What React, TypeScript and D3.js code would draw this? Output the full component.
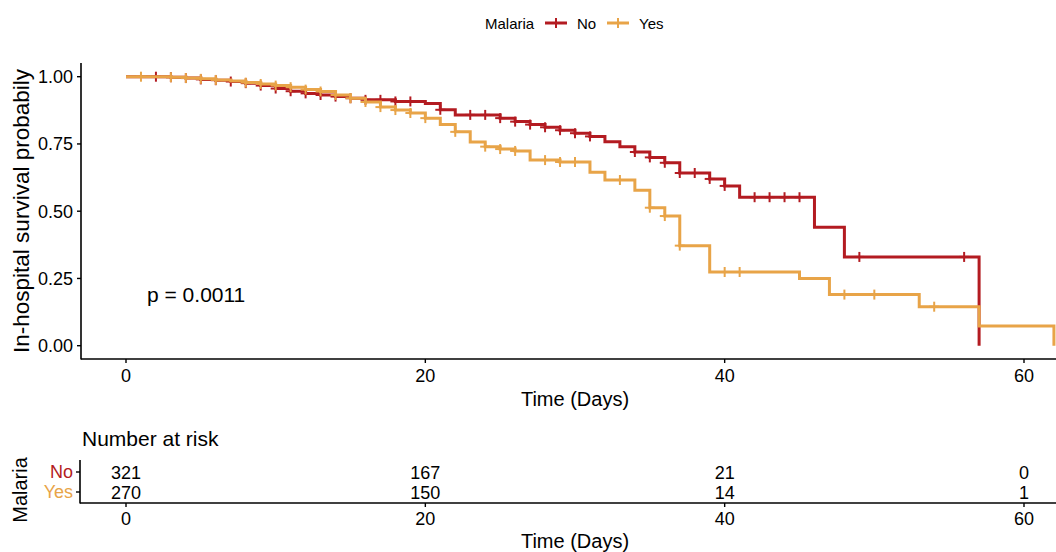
import React from 'react';
import * as d3 from 'd3';

// Kaplan-Meier steps
const groups = ['No', 'Yes'];
const colors = ['#B31B21', '#E8A448'];

const noTimes = [3, 4, 5, 6, 7, 8, 9, 10, 11, 12, 13, 14, 15, 16, 18, 20, 21, 22, 25, 26, 27, 28, 29, 30, 31, 32, 33, 34, 35, 36, 37, 39, 40, 41, 46, 48, 57];
const noSurv = [0.998, 0.995, 0.99, 0.987, 0.982, 0.976, 0.967, 0.956, 0.946, 0.938, 0.932, 0.926, 0.92, 0.914, 0.908, 0.9, 0.877, 0.858, 0.846, 0.833, 0.822, 0.812, 0.801, 0.79, 0.778, 0.758, 0.74, 0.72, 0.7, 0.68, 0.642, 0.62, 0.594, 0.552, 0.44, 0.33, 0];
const noCensor = [2, 3, 4, 5, 6, 7, 8, 9, 10, 11, 12, 13, 14, 15, 16, 17, 18, 19, 21, 23, 24, 25, 26, 27, 28, 29, 30, 31, 34, 35, 36, 37, 38, 39, 40, 42, 43, 44, 45, 49, 56];

const yesTimes = [3, 4, 5, 6, 7, 8, 9, 10, 11, 12, 13, 14, 15, 16, 17, 18, 19, 20, 21, 22, 23, 24, 25, 26, 27, 29, 31, 32, 34, 35, 36, 37, 39, 45, 47, 53, 57, 62];
const yesSurv = [0.998, 0.995, 0.992, 0.988, 0.984, 0.978, 0.973, 0.967, 0.961, 0.952, 0.945, 0.932, 0.92, 0.906, 0.887, 0.876, 0.865, 0.846, 0.822, 0.795, 0.757, 0.74, 0.731, 0.724, 0.69, 0.683, 0.645, 0.616, 0.578, 0.513, 0.482, 0.372, 0.274, 0.25, 0.19, 0.145, 0.073, 0];
const yesCensor = [1, 3, 4, 5, 6, 8, 9, 10, 11, 12, 13, 14, 15, 16, 17, 18, 19, 20, 22, 24, 25, 26, 28, 29, 30, 33, 35, 36, 37, 40, 41, 48, 50, 54];

const xTicks = [0, 20, 40, 60];
const yTicks = [0, 0.25, 0.5, 0.75, 1];
const riskNo = [321, 167, 21, 0];
const riskYes = [270, 150, 14, 1];
const pLabel = 'p = 0.0011';

const font = "'Liberation Sans', Arial, Helvetica, sans-serif";
const W = 1056;
const H = 552;

const x = d3.scaleLinear().domain([0, 60]).range([126, 1024]);
const y = d3.scaleLinear().domain([0, 1]).range([345.7, 76.7]);
const panelLeft = 81;
const panelTop = 63;
const panelBottom = 359;

const series = [
  { name: groups[0], color: colors[0], times: noTimes, surv: noSurv, censor: noCensor },
  { name: groups[1], color: colors[1], times: yesTimes, surv: yesSurv, censor: yesCensor },
];

const survAt = (times: number[], surv: number[], t: number) => {
  let s = 1;
  times.forEach((tt, i) => {
    if (tt <= t) s = surv[i];
  });
  return s;
};

const stepLine = d3
  .line<[number, number]>()
  .x(d => x(d[0]))
  .y(d => y(d[1]))
  .curve(d3.curveStepAfter);

// risk table
const tableAxisY = 503;
const rowY = d3.scaleBand().domain(groups).range([462, 502]);

export default function App() {
  const fmt = d3.format('.2f');
  return (
    <div style={{ position: 'absolute', left: 0, top: 0 }}>
      <svg width={W} height={H} style={{ display: 'block', background: '#fff' }} fontFamily={font}>
        {/* legend */}
        <g>
          <text x={485} y={29} fontSize={15} fill="#000">Malaria</text>
          {series.map((s, i) => {
            const lx = i === 0 ? 545 : 607;
            return (
              <g key={s.name}>
                <line x1={lx} x2={lx + 22} y1={23} y2={23} stroke={s.color} strokeWidth={3} />
                <line x1={lx + 11} x2={lx + 11} y1={18} y2={28} stroke={s.color} strokeWidth={2} />
                <text x={lx + 32} y={29} fontSize={15} fill="#000">{s.name}</text>
              </g>
            );
          })}
        </g>

        {/* axes of the survival panel */}
        <line x1={panelLeft} x2={panelLeft} y1={panelTop} y2={panelBottom + 0.5} stroke="#000" strokeWidth={1.6} />
        <line x1={panelLeft} x2={W} y1={panelBottom} y2={panelBottom} stroke="#000" strokeWidth={1.6} />
        {yTicks.map(t => (
          <g key={t}>
            <line x1={panelLeft - 4} x2={panelLeft} y1={y(t)} y2={y(t)} stroke="#000" strokeWidth={1.4} />
            <text x={73} y={y(t) + 6.5} fontSize={18} textAnchor="end" fill="#000">{fmt(t)}</text>
          </g>
        ))}
        {xTicks.map(t => (
          <g key={t}>
            <line x1={x(t)} x2={x(t)} y1={panelBottom} y2={panelBottom + 4} stroke="#000" strokeWidth={1.4} />
            <text x={x(t)} y={382} fontSize={18} textAnchor="middle" fill="#000">{t}</text>
          </g>
        ))}
        <text x={575} y={406} fontSize={20} textAnchor="middle" fill="#000">Time (Days)</text>
        <text transform={`translate(29,${(panelTop + panelBottom) / 2}) rotate(-90)`} fontSize={22.5} textAnchor="middle" fill="#000">
          In-hospital survival probabily
        </text>

        {/* curves */}
        {series.map(s => {
          const pts: [number, number][] = [[0, 1], ...s.times.map((t, i) => [t, s.surv[i]] as [number, number])];
          return (
            <g key={s.name}>
              <path d={stepLine(pts) || ''} fill="none" stroke={s.color} strokeWidth={3} />
              {s.censor.map(c => {
                const cy = y(survAt(s.times, s.surv, c));
                return (
                  <g key={c}>
                    <line x1={x(c) - 5} x2={x(c) + 5} y1={cy} y2={cy} stroke={s.color} strokeWidth={2} />
                    <line x1={x(c)} x2={x(c)} y1={cy - 5} y2={cy + 5} stroke={s.color} strokeWidth={2} />
                  </g>
                );
              })}
            </g>
          );
        })}

        <text x={147} y={302} fontSize={21} fill="#000">{pLabel}</text>

        {/* risk table */}
        <text x={82} y={446} fontSize={21} fill="#000">Number at risk</text>
        <line x1={80} x2={80} y1={460} y2={tableAxisY + 0.5} stroke="#000" strokeWidth={1.6} />
        <line x1={80} x2={W} y1={tableAxisY} y2={tableAxisY} stroke="#000" strokeWidth={1.6} />
        {series.map((s, i) => {
          const cy = (rowY(s.name) || 0) + rowY.bandwidth() / 2;
          const vals = i === 0 ? riskNo : riskYes;
          return (
            <g key={s.name}>
              <line x1={76} x2={80} y1={cy} y2={cy} stroke="#000" strokeWidth={1.4} />
              <text x={73} y={cy + 6} fontSize={18} textAnchor="end" fill={s.color}>{s.name}</text>
              {vals.map((v, j) => (
                <text key={j} x={x(xTicks[j])} y={cy + 6.5} fontSize={18} textAnchor="middle" fill="#000">{v}</text>
              ))}
            </g>
          );
        })}
        {xTicks.map(t => (
          <g key={t}>
            <line x1={x(t)} x2={x(t)} y1={tableAxisY} y2={tableAxisY + 4} stroke="#000" strokeWidth={1.4} />
            <text x={x(t)} y={525} fontSize={18} textAnchor="middle" fill="#000">{t}</text>
          </g>
        ))}
        <text x={575} y={548} fontSize={20} textAnchor="middle" fill="#000">Time (Days)</text>
        <text transform="translate(27,490) rotate(-90)" fontSize={20} textAnchor="middle" fill="#000">Malaria</text>
      </svg>
    </div>
  );
}
